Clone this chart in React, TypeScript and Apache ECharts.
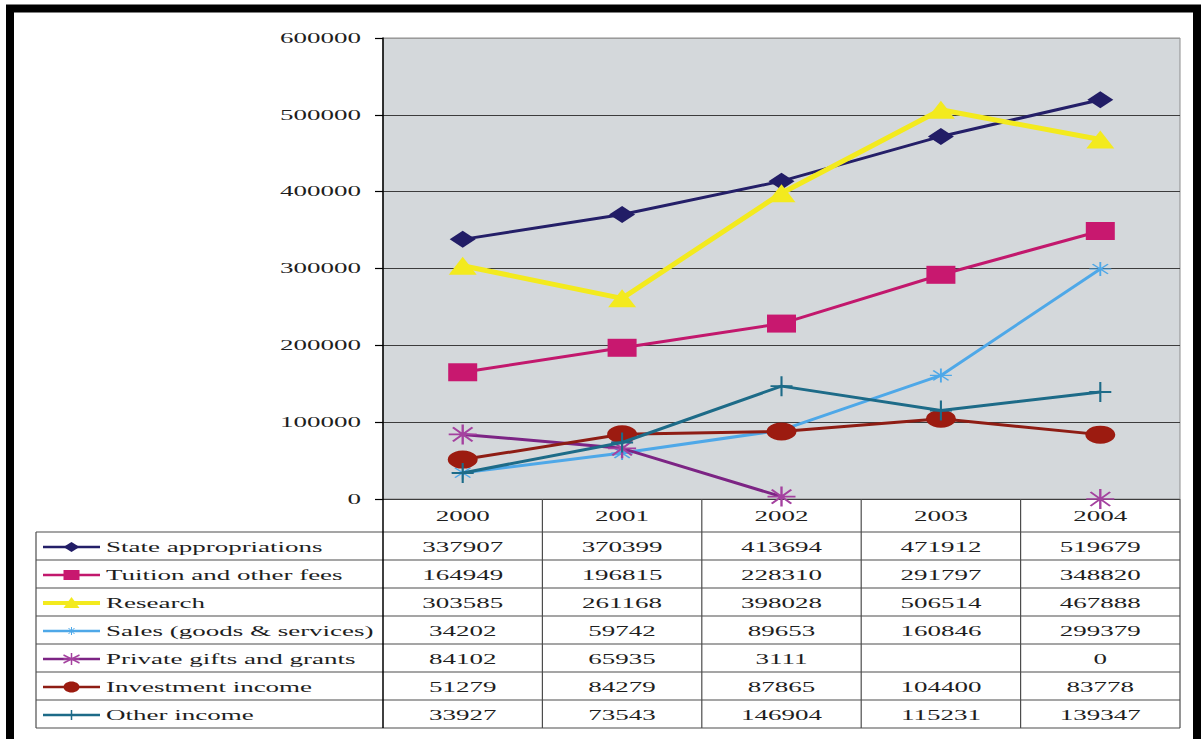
import React, { useEffect, useRef } from "react";
import * as echarts from "echarts";

// Revenue by source, 2000-2004
const years = ["2000", "2001", "2002", "2003", "2004"];
const stateAppropriations = [337907, 370399, 413694, 471912, 519679];
const tuitionFees = [164949, 196815, 228310, 291797, 348820];
const research = [303585, 261168, 398028, 506514, 467888];
const salesGoods = [34202, 59742, 89653, 160846, 299379];
const privateGifts: (number | null)[] = [84102, 65935, 3111, null, 0];
const investmentIncome = [51279, 84279, 87865, 104400, 83778];
const otherIncome = [33927, 73543, 146904, 115231, 139347];
const yTicks = [0, 100000, 200000, 300000, 400000, 500000, 600000];

const seriesNames = [
  "State appropriations",
  "Tuition and other fees",
  "Research",
  "Sales (goods & services)",
  "Private gifts and grants",
  "Investment income",
  "Other income",
];
const seriesData = [
  stateAppropriations,
  tuitionFees,
  research,
  salesGoods,
  privateGifts,
  investmentIncome,
  otherIncome,
];

type MarkerKind = "diamond" | "square" | "triangle" | "star" | "asterisk" | "circle" | "plus";

interface SeriesLook {
  color: string;
  markerColor: string;
  width: number;
  marker: MarkerKind;
  size: [number, number];
}

const looks: SeriesLook[] = [
  { color: "#241f68", markerColor: "#221d66", width: 3, marker: "diamond", size: [26, 17] },
  { color: "#c2186d", markerColor: "#c8186f", width: 3, marker: "square", size: [29, 18] },
  { color: "#f3ea1e", markerColor: "#f3ea1e", width: 5, marker: "triangle", size: [28, 18] },
  { color: "#4ea8e8", markerColor: "#4ea8e8", width: 3, marker: "star", size: [22, 14] },
  { color: "#7c2484", markerColor: "#a4419f", width: 3, marker: "asterisk", size: [28, 20] },
  { color: "#8e1d14", markerColor: "#9c1b10", width: 3, marker: "circle", size: [30, 18] },
  { color: "#1d6b88", markerColor: "#1d6b88", width: 3, marker: "plus", size: [22, 20] },
];

const ASTERISK = "path://M0,-10L0,10M-10,0L10,0M-7,-7L7,7M-7,7L7,-7";
const PLUS = "path://M0,-10L0,10M-10,0L10,0";

const symbolFor = (m: MarkerKind): string => {
  switch (m) {
    case "diamond":
      return "diamond";
    case "square":
      return "rect";
    case "triangle":
      return "triangle";
    case "circle":
      return "circle";
    case "plus":
      return PLUS;
    default:
      return ASTERISK;
  }
};

const FONT_FAMILY = '"Liberation Serif", "Times New Roman", serif';
const TEXT_SX = 1.8;
const TEXT_COLOR = "#1e1e1e";
const RULE_COLOR = "#4d4d4d";

const label = (text: string, x: number, y: number, align: "left" | "center" | "right") => ({
  type: "text",
  x,
  y,
  scaleX: TEXT_SX,
  silent: true,
  style: {
    text,
    fontFamily: FONT_FAMILY,
    fontSize: 15,
    fill: TEXT_COLOR,
    align,
    textAlign: align,
    verticalAlign: "middle",
    textVerticalAlign: "middle",
  },
});

const rule = (x1: number, y1: number, x2: number, y2: number, color = RULE_COLOR, w = 1.2) => ({
  type: "line",
  silent: true,
  shape: { x1, y1, x2, y2 },
  style: { stroke: color, lineWidth: w },
});

// Small legend key: a line sample with the series marker in its middle
const legendKey = (look: SeriesLook, x1: number, x2: number, cy: number) => {
  const cx = (x1 + x2) / 2;
  const els: any[] = [rule(x1, cy, x2, cy, look.color, look.marker === "triangle" ? 4 : 2.5)];
  const c = look.markerColor;
  const strokeLines = (segs: number[][], lw: number) =>
    segs.forEach(([a, b, d, e]) => els.push(rule(cx + a, cy + b, cx + d, cy + e, c, lw)));
  switch (look.marker) {
    case "diamond":
      els.push({
        type: "polygon",
        silent: true,
        shape: { points: [[cx - 8, cy], [cx, cy - 5], [cx + 8, cy], [cx, cy + 5]] },
        style: { fill: c },
      });
      break;
    case "square":
      els.push({ type: "rect", silent: true, shape: { x: cx - 8, y: cy - 5, width: 16, height: 10 }, style: { fill: c } });
      break;
    case "triangle":
      els.push({
        type: "polygon",
        silent: true,
        shape: { points: [[cx, cy - 6], [cx + 8, cy + 5], [cx - 8, cy + 5]] },
        style: { fill: c },
      });
      break;
    case "circle":
      els.push({ type: "ellipse", silent: true, shape: { cx, cy, rx: 8, ry: 5.5 }, style: { fill: c } });
      break;
    case "plus":
      strokeLines([[0, -5, 0, 5]], 1.5);
      break;
    case "star":
      strokeLines([[0, -4, 0, 4], [-3, -3, 3, 3], [-3, 3, 3, -3]], 1);
      break;
    case "asterisk":
      strokeLines([[0, -6, 0, 6], [-8, -4, 8, 4], [-8, 4, 8, -4], [-8, 0, 8, 0]], 1.5);
      break;
  }
  return els;
};

export default function App() {
  const ref = useRef<HTMLDivElement>(null);

  useEffect(() => {
    const el = ref.current;
    if (!el) return;
    const chart = echarts.init(el, null, { renderer: "svg" });

    chart.setOption({
      animation: false,
      backgroundColor: "#ffffff",
      grid: {
        left: 383,
        right: 21,
        top: 38,
        bottom: 240,
        show: true,
        backgroundColor: "#d4d8db",
        borderColor: "#8e8e8e",
        borderWidth: 1,
      },
      xAxis: {
        type: "category",
        data: years,
        boundaryGap: true,
        axisLine: { show: false },
        axisTick: { show: false },
        axisLabel: { show: false },
        splitLine: { show: false },
      },
      yAxis: {
        type: "value",
        min: 0,
        max: 600000,
        interval: 100000,
        axisLine: { show: true, lineStyle: { color: "#000", width: 1.5 } },
        axisTick: { show: true, inside: false, length: 8, lineStyle: { color: "#000", width: 1.2 } },
        axisLabel: { show: false },
        splitLine: {
          show: true,
          lineStyle: {
            color: ["#3c3c3c", "#3c3c3c", "#3c3c3c", "#3c3c3c", "#3c3c3c", "#3c3c3c", "#9a9a9a"],
            width: 1.2,
          },
        },
      },
      series: seriesNames.map((name, i) => {
        const look = looks[i];
        const isStroke = look.marker === "plus" || look.marker === "star" || look.marker === "asterisk";
        return {
          name,
          type: "line",
          data: seriesData[i],
          connectNulls: false,
          symbol: symbolFor(look.marker),
          symbolSize: look.size,
          showSymbol: true,
          showAllSymbol: true,
          lineStyle: { color: look.color, width: look.width },
          itemStyle: {
            color: look.markerColor,
            borderColor: look.markerColor,
            borderWidth: isStroke ? (look.marker === "star" ? 1.5 : 2) : 0,
          },
          emphasis: { disabled: true },
          z: 2 + i,
        };
      }),
    });

    // Positions taken from the chart's own axes
    const colX = years.map((_, i) => chart.convertToPixel({ xAxisIndex: 0 }, i) as number);
    const tickY = yTicks.map((v) => chart.convertToPixel({ yAxisIndex: 0 }, v) as number);
    const half = (colX[1] - colX[0]) / 2;
    const axisBottom = tickY[0];
    const colEdges = [colX[0] - half, ...colX.map((x) => x + half)];

    const headerBottom = 532;
    const rowH = 28;
    const tableLeft = 36;
    const tableRight = colEdges[colEdges.length - 1];
    const tableBottom = headerBottom + rowH * seriesNames.length;

    const elements: any[] = [];

    // outer frame
    elements.push({
      type: "rect",
      silent: true,
      shape: { x: 10, y: 8.5, width: 1187, height: 800 },
      style: { fill: "transparent", stroke: "#000", lineWidth: 8 },
    });

    // value-axis labels
    yTicks.forEach((v, i) => elements.push(label(String(v), 361, tickY[i], "right")));

    // data table grid
    for (let r = 0; r <= seriesNames.length; r++) {
      const y = headerBottom + r * rowH;
      elements.push(rule(tableLeft, y, tableRight, y));
    }
    elements.push(rule(tableLeft, headerBottom, tableLeft, tableBottom));
    colEdges.forEach((x, i) =>
      elements.push(rule(x, axisBottom, x, tableBottom, i === 0 ? "#000" : RULE_COLOR, i === 0 ? 1.5 : 1.2))
    );

    // header row with the years
    years.forEach((y, i) => elements.push(label(y, colX[i], (axisBottom + headerBottom) / 2 + 1, "center")));

    // one row per series: key, name, values
    seriesNames.forEach((name, r) => {
      const cy = headerBottom + rowH * (r + 0.5) + 1;
      elements.push(...legendKey(looks[r], 43, 100, cy));
      elements.push(label(name, 106, cy, "left"));
      seriesData[r].forEach((v, c) => {
        if (v === null) return;
        elements.push(label(String(v), colX[c], cy, "center"));
      });
    });

    chart.setOption({ graphic: { elements } });

    return () => chart.dispose();
  }, []);

  return (
    <div
      ref={ref}
      style={{ position: "absolute", left: 0, top: 0, width: 1201, height: 739, background: "#fff" }}
    />
  );
}
